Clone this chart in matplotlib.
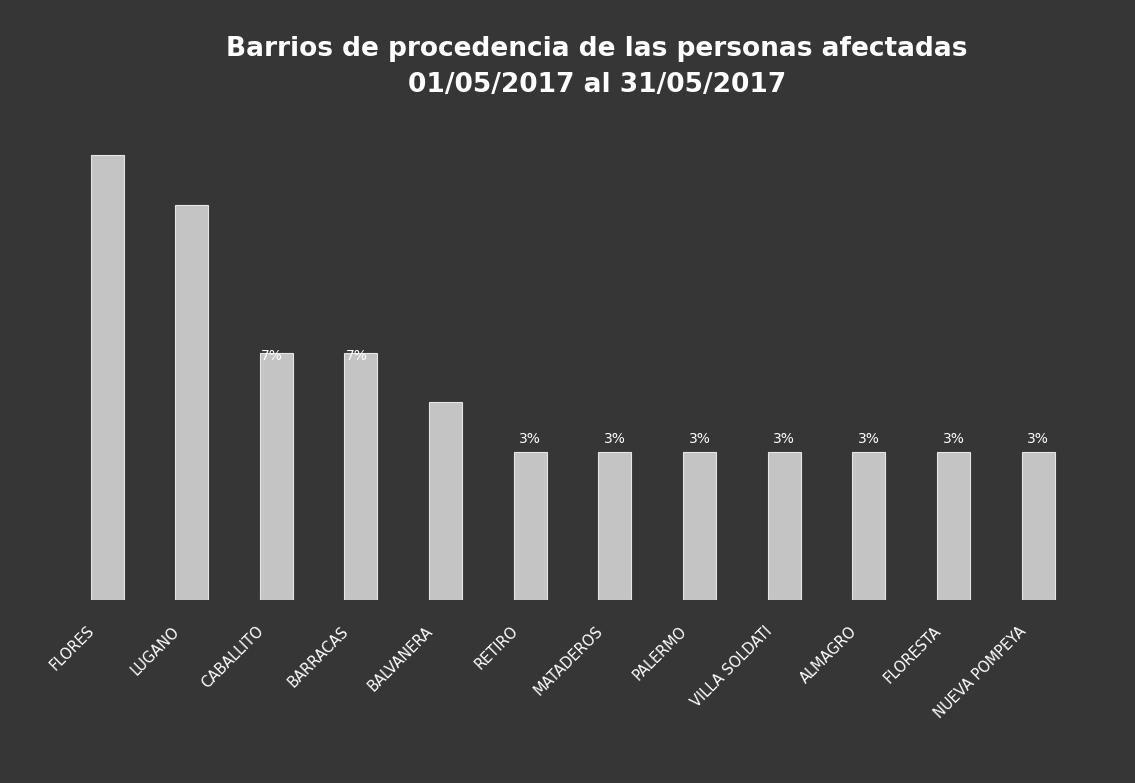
import matplotlib
matplotlib.use("Agg")
import matplotlib.pyplot as plt
import matplotlib.transforms as mtransforms

# ----------------------------------------
# Data
# ----------------------------------------
barrios = ["FLORES", "LUGANO", "CABALLITO", "BARRACAS", "BALVANERA", "RETIRO",
           "MATADEROS", "PALERMO", "VILLA SOLDATI", "ALMAGRO", "FLORESTA",
           "NUEVA POMPEYA"]
# bar heights (relative, as drawn)
valores = [9, 8, 5, 5, 4, 3, 3, 3, 3, 3, 3, 3]
# percentage labels visible on the chart
etiquetas = ["", "", "7%", "7%", "", "3%", "3%", "3%", "3%", "3%", "3%", "3%"]

BG = "#363636"
BAR = "#c4c4c4"

# ----------------------------------------
# Plot
# ----------------------------------------
fig = plt.figure(figsize=(11.35, 7.83), dpi=100, facecolor=BG)
ax = fig.add_axes([0.057, 0.234, 0.895, 0.631], facecolor=BG)

x = list(range(len(barrios)))
bars = ax.bar(x, valores, width=0.39, color=BAR, edgecolor="#e6e6e6", linewidth=0.8)

for b, txt in zip(bars, etiquetas):
  if not txt:
    continue
  cx = b.get_x() + b.get_width() / 2
  if txt == "3%":
    ax.text(cx, b.get_height() + 0.12, txt, ha="center", va="bottom",
            color="white", fontsize=10)
  else:
    # these labels sit right on the bar top in the original
    ax.text(cx - 0.05, b.get_height() - 0.06, txt, ha="center", va="center",
            color="white", fontsize=10)

ax.set_xlim(-0.5, len(barrios) - 0.5)
ax.set_ylim(0, 10)
ax.set_yticks([])
ax.set_xticks(x)
ax.set_xticklabels(barrios, rotation=45, ha="right", rotation_mode="anchor",
                   color="white", fontsize=10.5)
ax.tick_params(axis="x", length=0, pad=17)
# labels sit a bit left of the bar centres
shift = mtransforms.ScaledTranslation(-20 / 100, 0, fig.dpi_scale_trans)
for lbl in ax.get_xticklabels():
  lbl.set_transform(lbl.get_transform() + shift)
for s in ax.spines.values():
  s.set_visible(False)

fig.text(0.526, 0.937, "Barrios de procedencia de las personas afectadas",
         ha="center", va="center", color="white", fontsize=19, fontweight="bold")
fig.text(0.526, 0.891, "01/05/2017 al 31/05/2017",
         ha="center", va="center", color="white", fontsize=19, fontweight="bold")

fig.savefig("out.png", dpi=100, facecolor=BG)
